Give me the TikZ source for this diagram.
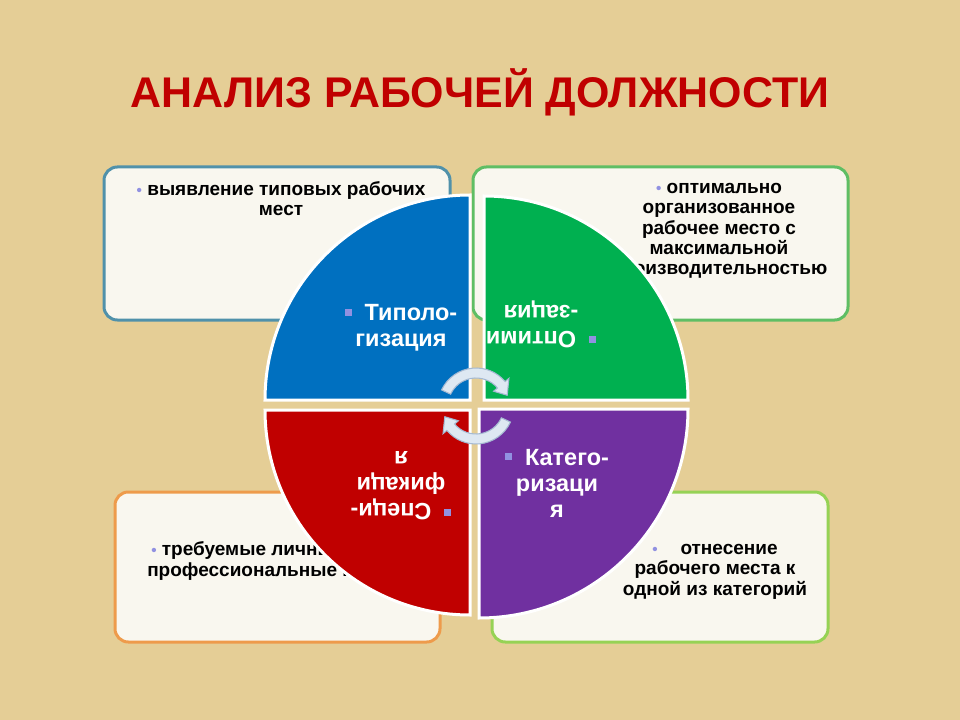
\documentclass[tikz,border=0pt]{standalone}
\usepackage{fontspec}
\setmainfont{Liberation Sans}
\usetikzlibrary{calc}
\definecolor{bg}{RGB}{229,206,150}
\definecolor{titlered}{RGB}{192,0,0}
\definecolor{boxfill}{RGB}{249,247,239}
\definecolor{tlc}{RGB}{80,145,170}
\definecolor{trc}{RGB}{95,190,100}
\definecolor{blc}{RGB}{238,155,75}
\definecolor{brc}{RGB}{150,210,85}
\definecolor{qblue}{RGB}{0,112,192}
\definecolor{qgreen}{RGB}{0,176,80}
\definecolor{qred}{RGB}{192,0,0}
\definecolor{qpurple}{RGB}{112,48,160}
\definecolor{bulc}{RGB}{145,145,225}
\definecolor{arrfill}{RGB}{222,232,242}
\definecolor{arredge}{RGB}{165,185,210}
\newcommand{\bdot}{\textcolor{bulc}{\scalebox{0.8}{•}}}
\newcommand{\bsq}{\textcolor{bulc}{\rule[0.2em]{0.3em}{0.3em}}\hspace{0.55em}}
\begin{document}
\begin{tikzpicture}[x=0.75pt,y=-0.75pt,
  boxs/.style={line width=2.25pt, fill=boxfill, rounded corners=10pt},
  btext/.style={font=\fontsize{14.25}{15.2}\selectfont\bfseries, align=center, text=black, inner sep=0pt},
  qtext/.style={font=\fontsize{17.6}{19.5}\selectfont\bfseries, align=center, text=white, inner sep=0pt},
  quad/.style={draw=white, line width=2.25pt},
  carrow/.style={fill=arrfill, draw=arredge, line width=0.8pt}]
\fill[bg] (0,0) rectangle (960,720);
\useasboundingbox (0,0) rectangle (960,720);
% title
\node[font=\fontsize{32.2}{36}\selectfont\bfseries, text=titlered, inner sep=0pt, anchor=base] (title) at (480,108) {АНАЛИЗ РАБОЧЕЙ ДОЛЖНОСТИ};
% boxes
\draw[boxs, draw=tlc] (104,167) rectangle (450,320);
\coordinate (tlbox) at (277,243);
\draw[boxs, draw=trc] (473,167) rectangle (848,320);
\coordinate (trbox) at (660,243);
\draw[boxs, draw=blc] (115,492) rectangle (440,642);
\coordinate (blbox) at (277,567);
\draw[boxs, draw=brc] (492,492) rectangle (828,642);
\coordinate (brbox) at (660,567);
% box texts
\node[btext, anchor=north] (tltext) at (281,181) {\bdot\ выявление типовых рабочих\\мест};
\node[btext, anchor=north] (trtext) at (719,183) {\bdot\ оптимально\\организованное\\рабочее место с\\максимальной\\производительностью};
\node[btext, anchor=base west] (bltext1) at (151,555) {\bdot\ требуемые личные и};
\node[btext, anchor=base west] (bltext2) at (147,576) {профессиональные качества};
\node[btext, anchor=north] (brtext) at (715,544) {\bdot\hspace{1.2em}отнесение\\рабочего места к\\одной из категорий};
% quadrants
\path[quad, fill=qblue] (470,400) -- (265,400) arc[start angle=180, end angle=270, radius=205] -- cycle;
\path[quad, fill=qgreen] (484,400) -- (484,196) arc[start angle=270, end angle=360, radius=204] -- cycle;
\path[quad, fill=qred] (470,410) -- (470,615) arc[start angle=90, end angle=180, radius=205] -- cycle;
\path[quad, fill=qpurple] (479,409) -- (688,409) arc[start angle=0, end angle=90, radius=209] -- cycle;
% quadrant texts
\node[qtext] (tipo) at (401,328) {\bsq Типоло-\\гизация};
\node[qtext, rotate=180] (opti) at (541,324) {\bsq Оптими\\-зация};
\node[qtext, rotate=180] (spec) at (401,486) {\bsq Специ-\\фикаци\\я};
\node[qtext] (kate) at (557,483) {\bsq Катего-\\ризаци\\я};
% circular arrows
\begin{scope}[shift={(476,406)}]
\draw[carrow] (205:38) arc[start angle=205, end angle=320, radius=38] -- (320:43) -- (341:33) -- (320:23) -- (320:28) arc[start angle=320, end angle=205, radius=28] -- cycle;
\draw[carrow] (25:38) arc[start angle=25, end angle=140, radius=38] -- (140:43) -- (161:33) -- (140:23) -- (140:28) arc[start angle=140, end angle=25, radius=28] -- cycle;
\end{scope}
\end{tikzpicture}
\end{document}
